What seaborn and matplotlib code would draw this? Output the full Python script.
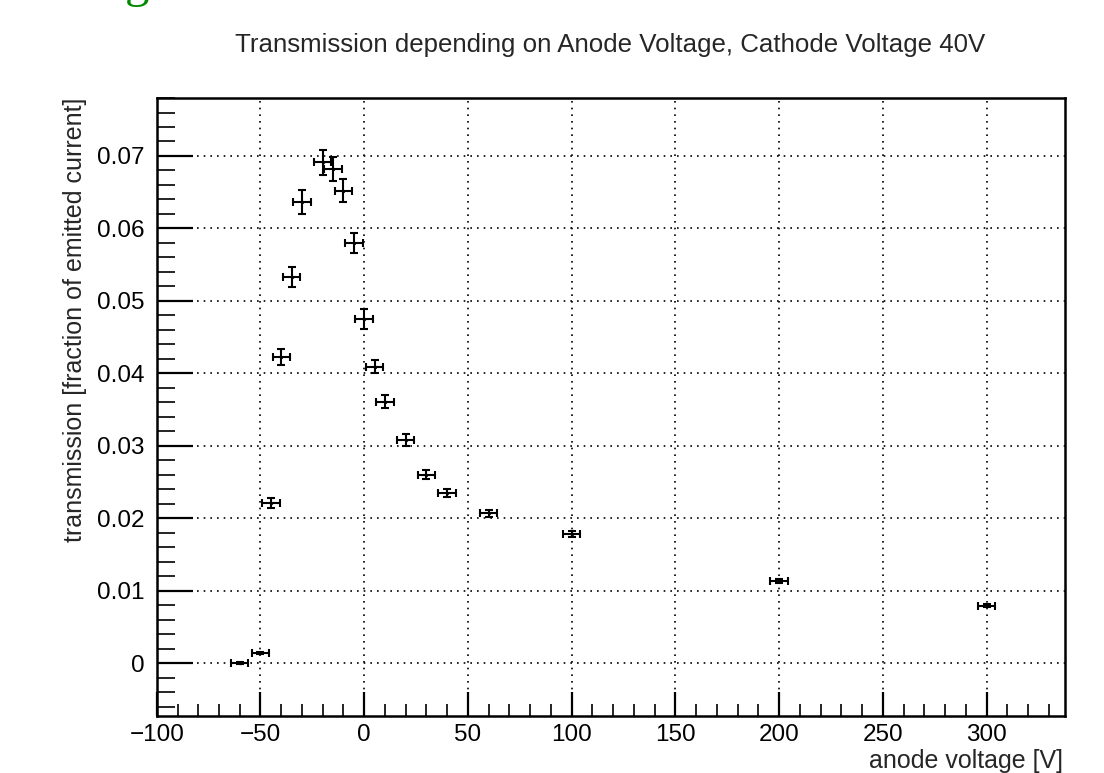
import numpy as np
import pandas as pd
import matplotlib
matplotlib.use("Agg")
import matplotlib.pyplot as plt
import seaborn as sns
from matplotlib.ticker import MultipleLocator, FuncFormatter

# ---- data ----
anode_voltage = [-60, -50, -45, -40, -35, -30, -20, -15, -10, -5, 0, 5, 10, 20, 30, 40, 60, 100, 200, 300]
transmission = [0.0000, 0.0014, 0.0221, 0.0423, 0.0533, 0.0636, 0.0691, 0.0682, 0.0652, 0.0580,
                0.0475, 0.0409, 0.0361, 0.0308, 0.0260, 0.0235, 0.0207, 0.0178, 0.0113, 0.0079]
voltage_err = [4.2] * len(anode_voltage)
transmission_err = [0.0001, 0.0002, 0.00065, 0.0011, 0.0014, 0.00165, 0.0017, 0.0017, 0.0016, 0.0014,
                    0.0014, 0.0009, 0.0009, 0.0008, 0.00065, 0.00055, 0.0005, 0.0004, 0.0003, 0.0002]

title_text = "Transmission depending on Anode Voltage, Cathode Voltage 40V"
xlabel_text = "anode voltage [V]"
ylabel_text = "transmission [fraction of emitted current]"

df = pd.DataFrame({"v": anode_voltage, "t": transmission,
                   "verr": voltage_err, "terr": transmission_err})

sns.set_style("white")
plt.rcParams["font.family"] = ["Liberation Sans", "DejaVu Sans"]

fig = plt.figure(figsize=(11.04, 7.73), dpi=100)
ax = fig.add_axes([0.142, 0.0737, 0.823, 0.7995])

ax.errorbar(df["v"], df["t"], xerr=df["verr"], yerr=df["terr"], fmt="none",
            ecolor="black", elinewidth=1.5, capsize=3, capthick=1.5, zorder=3)
sns.scatterplot(data=df, x="v", y="t", ax=ax, color="black", s=6, marker="o",
                edgecolor="black", linewidth=0, zorder=4, legend=False)

ax.set_xlim(-100, 338)
ax.set_ylim(-0.0073, 0.078)

ax.xaxis.set_major_locator(MultipleLocator(50))
ax.xaxis.set_minor_locator(MultipleLocator(10))
ax.yaxis.set_major_locator(MultipleLocator(0.01))
ax.yaxis.set_minor_locator(MultipleLocator(0.002))

def yfmt(v, pos):
    if abs(v) < 1e-9:
        return "0"
    return "%.2f" % v
ax.yaxis.set_major_formatter(FuncFormatter(yfmt))

ax.tick_params(axis="both", which="both", direction="in", bottom=True, left=True,
               top=False, right=False, labelsize=17.5, colors="black")
ax.tick_params(axis="y", which="major", length=26, width=1.6, pad=9)
ax.tick_params(axis="y", which="minor", length=13, width=1.2)
ax.tick_params(axis="x", which="major", length=17, width=1.6, pad=6)
ax.tick_params(axis="x", which="minor", length=9, width=1.2)

ax.grid(True, which="major", linestyle=(0, (1, 3)), color="black", linewidth=1.2)
for s in ax.spines.values():
    s.set_color("black")
    s.set_linewidth(1.8)

ax.set_xlabel(xlabel_text, fontsize=18)
ax.xaxis.set_label_coords(0.997, -0.054)
ax.xaxis.label.set_horizontalalignment("right")
ax.xaxis.label.set_verticalalignment("top")
ax.set_ylabel(ylabel_text, fontsize=18, loc="top", labelpad=7)
fig.text(0.5525, 0.942, title_text, ha="center", va="center", fontsize=18.6)

fig.text(0.113, 1.0 + 3 / 773, "g", color="#008a00", fontsize=35,
         family=["Liberation Serif", "DejaVu Serif"], va="baseline", ha="left")

fig.savefig("out.png", dpi=100)
